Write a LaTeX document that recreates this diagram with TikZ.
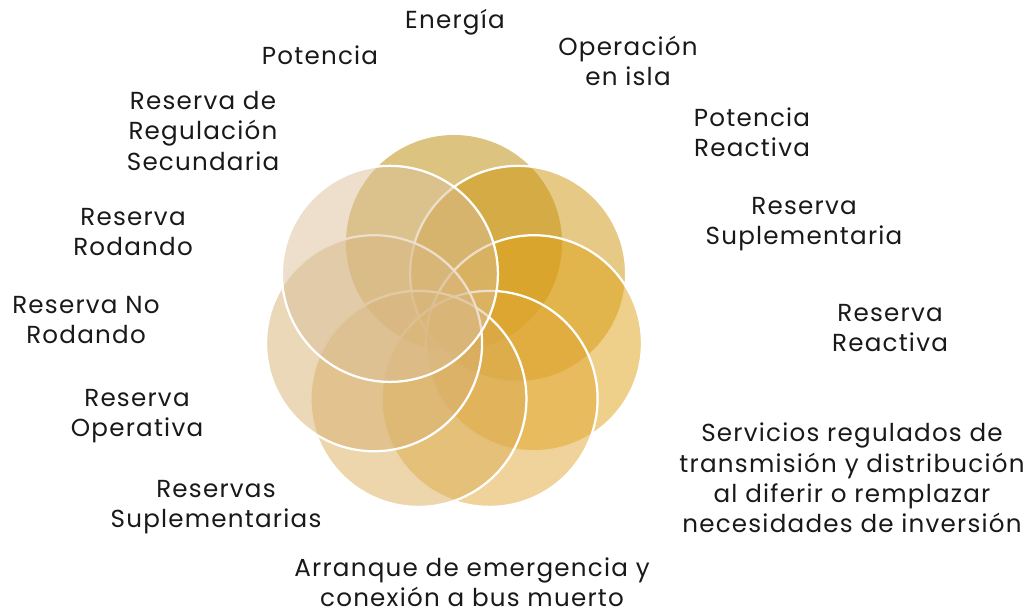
\documentclass[tikz,border=0pt]{standalone}
\usepackage{fontspec}
\setmainfont[LetterSpace=5]{Poppins}
\definecolor{petA}{RGB}{185,135,1}
\definecolor{petB}{RGB}{205,147,11}
\definecolor{petC}{RGB}{223,161,21}
\definecolor{petD}{RGB}{225,167,53}
\definecolor{petE}{RGB}{219,173,89}
\definecolor{petF}{RGB}{215,177,115}
\definecolor{petG}{RGB}{219,191,151}
\begin{document}
\begin{tikzpicture}[
		x=0.025cm, y=-0.025cm,
		lbl/.style={align=center, font=\fontsize{17.5}{21.5}\selectfont, text=black!90, inner sep=0pt},
		declare function = {
				R = 82;
			},
	]
	\path[use as bounding box] (0,0) rectangle (1029,612);
	\coordinate (mid) at (454,325);
	\fill[petA, fill opacity=0.5] (mid) ++(-90:R) coordinate (pA) circle[radius=2.7cm];
	\foreach \c [count=\i] in {petB,petC,petD,petE,petF,petG}
		\filldraw[fill=\c, fill opacity=0.5, draw=white, line width=1.6pt] (mid) ++({-90+\i*360/7}:R) coordinate (p\i) circle[radius=2.7cm];
	\node[lbl] (energia) at (455,22) {Energía};
	\node[lbl] (potencia) at (320,55) {Potencia};
	\node[lbl] (regsec) at (203,131) {Reserva de\\Regulación\\Secundaria};
	\node[lbl] (rodando) at (133,232) {Reserva\\Rodando};
	\node[lbl] (norodando) at (86,320) {Reserva No\\Rodando};
	\node[lbl] (operativa) at (137,416) {Reserva\\Operativa};
	\node[lbl] (suplems) at (216,507) {Reservas\\Suplementarias};
	\node[lbl] (arranque) at (472,582) {Arranque de emergencia y\\conexión a bus muerto};
	\node[lbl] (isla) at (628,61) {Operación\\en isla};
	\node[lbl] (potreac) at (752,132) {Potencia\\Reactiva};
	\node[lbl] (suplem) at (804,224) {Reserva\\Suplementaria};
	\node[lbl] (resreac) at (890,328) {Reserva\\Reactiva};
	\node[lbl] (servicios) at (852,478) {Servicios regulados de\\transmisión y distribución\\al diferir o remplazar\\necesidades de inversión};
\end{tikzpicture}
\end{document}
